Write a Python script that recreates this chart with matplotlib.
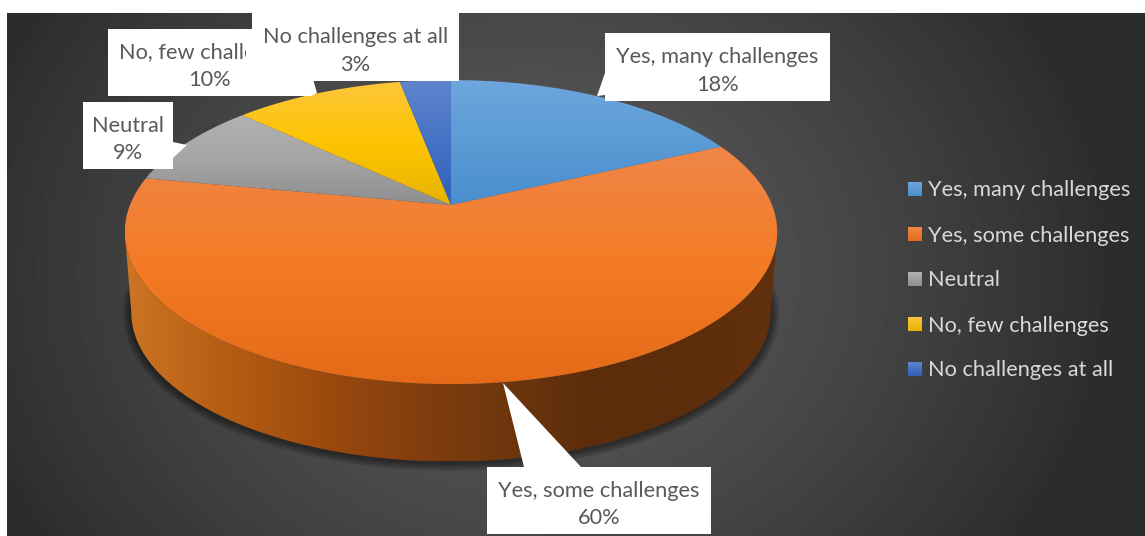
import numpy as np
import matplotlib
matplotlib.use("Agg")
import matplotlib.pyplot as plt
from matplotlib.colors import LinearSegmentedColormap
from matplotlib.patches import Polygon, Rectangle

categories = ["Yes, many challenges", "Yes, some challenges", "Neutral",
              "No, few challenges", "No challenges at all"]
shares = [18, 60, 9, 10, 3]

# gradient stops, top to bottom of each slice
slice_colors = [
    ["#6ea6dd", "#5b9bd5", "#4a8ecf"],
    ["#f08648", "#f47b25", "#e56a18"],
    ["#b2b2b2", "#a5a5a5", "#8e8e8e"],
    ["#fdc63c", "#fdc400", "#e6b300"],
    ["#5f84cc", "#4472c4", "#2f5fbb"],
]
wall_colors = ["#cc7524", "#b85e14", "#a04c0f", "#863f0e", "#6f370d", "#5c2d0b", "#5c2d0b", "#61300f"]

# label boxes: x0, y0, x1, y1 and pointer triangle, in pixels
label_boxes = [
    (605, 33, 830, 101),
    (487, 467, 711, 534),
    (83, 102, 173, 169),
    (108, 29, 311, 96),
    (252, 13, 459, 81),
]
pointers = [
    [(605, 73), (597, 96), (605, 95)],
    [(524, 467), (503, 383), (581, 467)],
    [(173, 142), (187, 145), (173, 158)],
    [(311, 72), (317, 93), (311, 96)],
    None,
]
legend_y = [189, 234, 279, 324, 369]

W, H = 1145, 536
CX, CY = 451, 205
RX, RY, K = 321, 147.2, 0.178
DEPTH, BASE_SCALE = 81, 0.98
FONT = "Lato"
FS = 15.7


def project(theta, dy=0.0, scale=1.0):
    # theta clockwise from 12 o'clock, perspective tilt of the disc
    u = np.sin(theta)
    v = np.cos(theta)
    w = 1 + K * v
    return CX + scale * RX * u / w, CY + dy - scale * RY * v / w


def gradient_fill(ax, verts, colors, vertical=True, zorder=2):
    verts = np.asarray(verts)
    x0, y0 = verts.min(axis=0)
    x1, y1 = verts.max(axis=0)
    cmap = LinearSegmentedColormap.from_list("g", colors)
    ramp = np.linspace(0, 1, 256)
    ramp = ramp[:, None] if vertical else ramp[None, :]
    im = ax.imshow(ramp, cmap=cmap, extent=(x0, x1, y1, y0), origin="upper",
                   aspect="auto", interpolation="bilinear", zorder=zorder)
    im.set_clip_path(Polygon(verts, closed=True, transform=ax.transData))
    return im


fig = plt.figure(figsize=(W / 100, H / 100), dpi=100, facecolor="white")
ax = fig.add_axes([0, 0, 1, 1])

# background
yy, xx = np.mgrid[13:536, 7:1145]
dist = np.sqrt(((xx - 530) / 570.0) ** 2 + ((yy - 270) / 480.0) ** 2)
bg = np.clip(92 - 46 * dist ** 1.3, 43, 92) / 255.0
ax.imshow(bg, cmap="gray", vmin=0, vmax=1, extent=(7, 1145, 536, 13),
          origin="upper", aspect="auto", zorder=0)

# shadow under the base
angles = np.linspace(0, 2 * np.pi, 721)
bx, by = project(angles, dy=DEPTH, scale=BASE_SCALE)
for lw in [12, 9, 6, 3]:
    ax.plot(bx, by + 1, color="black", lw=lw, alpha=0.13, zorder=1)

# side wall: front rim of the top + front rim of the base, tangent to tangent
tangent = np.arcsin(K)
front = np.linspace(np.pi / 2 + tangent, 3 * np.pi / 2 - tangent, 361)
tx, ty = project(front)
bx2, by2 = project(front, dy=DEPTH, scale=BASE_SCALE)
wall = np.vstack([np.column_stack([tx, ty]), np.column_stack([bx2, by2])[::-1]])
gradient_fill(ax, wall, wall_colors, vertical=False, zorder=2)

# top surface
edges = np.cumsum([0] + shares) / sum(shares) * 2 * np.pi
for i in range(len(shares)):
    th = np.linspace(edges[i], edges[i + 1], 200)
    px, py = project(th)
    verts = np.vstack([[CX, CY], np.column_stack([px, py])])
    gradient_fill(ax, verts, slice_colors[i], zorder=3)

# data labels, later boxes cover earlier ones
for i in range(len(categories)):
    x0, y0, x1, y1 = label_boxes[i]
    z = 5 + i
    ax.add_patch(Polygon([(x0, y0), (x1, y0), (x1, y1), (x0, y1)], closed=True,
                         fc="white", ec="none", zorder=z))
    if pointers[i] is not None:
        ax.add_patch(Polygon(pointers[i], closed=True, fc="white", ec="none", zorder=z))
    t = ax.text((x0 + x1) / 2, (y0 + y1) / 2 + 4, f"{categories[i]}\n{shares[i]}%",
                ha="center", va="center", color="#595959", family=FONT, fontsize=FS,
                linespacing=1.45, zorder=z + 0.5)
    if i == 3:
        # the reference cuts this label off short of the next box
        t.set_clip_on(True)
        t.set_clip_path(Rectangle((x0, y0), 246 - x0, y1 - y0, transform=ax.transData))

# legend
for i, cat in enumerate(categories):
    y = legend_y[i]
    sq = [(908, y - 7), (922, y - 7), (922, y + 7), (908, y + 7)]
    c = slice_colors[i]
    gradient_fill(ax, sq, [c[0], c[2]], zorder=3)
    ax.text(928, y + 1.5, cat, ha="left", va="center", color="#d9d9d9",
            family=FONT, fontsize=FS)

ax.set_xlim(0, W)
ax.set_ylim(H, 0)
ax.axis("off")
fig.savefig("out.png", dpi=100, facecolor="white")
